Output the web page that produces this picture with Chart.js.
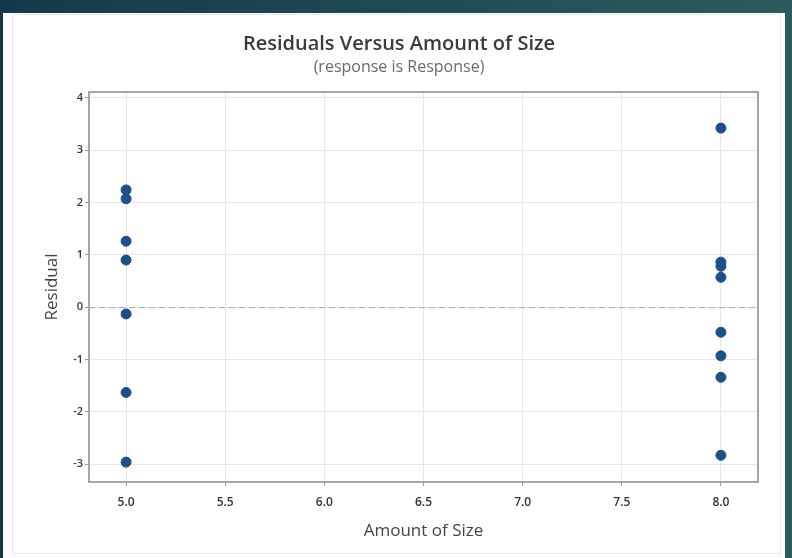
<!DOCTYPE html>
<html>
<head>
<meta charset="utf-8">
<script src="https://cdn.jsdelivr.net/npm/chart.js@4"></script>
<style>
  html, body { margin: 0; padding: 0; }
  body { width: 792px; height: 558px; overflow: hidden; position: relative;
         background: linear-gradient(90deg, #133a4a, #2a5b5d); }
  #panel { position: absolute; left: 3px; top: 13px; width: 782px; height: 545px; background: #fff; }
  #inner { position: absolute; left: 12px; top: 14px; width: 769px; height: 540px; border: 1px solid #e8e8e8; box-sizing: border-box; }
  #wrap { position: absolute; left: 0; top: 0; width: 792px; height: 558px; }
</style>
</head>
<body>
<div id="panel"></div>
<div id="inner"></div>
<div id="wrap"><canvas id="c" width="792" height="558"></canvas></div>
<script>
const titleText = "Residuals Versus Amount of Size";
const subtitleText = "(response is Response)";
const xAxisTitle = "Amount of Size";
const yAxisTitle = "Residual";

const sizeValues = [5, 5, 5, 5, 5, 5, 5, 8, 8, 8, 8, 8, 8, 8, 8];
const residuals  = [2.24, 2.07, 1.26, 0.90, -0.13, -1.63, -2.96,
                    3.42, 0.86, 0.78, 0.57, -0.48, -0.93, -1.34, -2.83];
const xTicks = [5.0, 5.5, 6.0, 6.5, 7.0, 7.5, 8.0];
const yTicks = [-3, -2, -1, 0, 1, 2, 3, 4];
const referenceY = 0;

const points = sizeValues.map((x, i) => ({ x: x, y: residuals[i] }));

const framePlugin = {
  id: 'frame',
  beforeDatasetsDraw(chart) {
    const { ctx, chartArea: a, scales } = chart;
    const y0 = scales.y.getPixelForValue(referenceY);
    ctx.save();
    ctx.strokeStyle = '#a8a8a8';
    ctx.lineWidth = 1;
    ctx.setLineDash([6, 4]);
    ctx.beginPath();
    ctx.moveTo(a.left, y0 + 0.5);
    ctx.lineTo(a.right, y0 + 0.5);
    ctx.stroke();
    ctx.restore();
  },
  afterDraw(chart) {
    const { ctx, chartArea: a } = chart;
    ctx.save();
    ctx.strokeStyle = '#a6a6a6';
    ctx.lineWidth = 2;
    ctx.strokeRect(a.left, a.top, a.right - a.left, a.bottom - a.top);
    ctx.restore();
  }
};

new Chart(document.getElementById('c'), {
  type: 'scatter',
  data: {
    datasets: [{
      data: points,
      backgroundColor: '#1d4f8b',
      borderColor: '#1d4f8b',
      pointRadius: 5,
      pointHoverRadius: 5
    }]
  },
  options: {
    responsive: false,
    animation: false,
    layout: { padding: { left: 40, right: 34, top: 20, bottom: 0 } },
    plugins: {
      legend: { display: false },
      tooltip: { enabled: false },
      title: {
        display: true, text: titleText, color: '#3a3a3a',
        font: { family: 'Open Sans', size: 20, weight: '600' },
        padding: { top: 12, bottom: 0 }
      },
      subtitle: {
        display: true, text: subtitleText, color: '#6a6a6a',
        font: { family: 'Open Sans', size: 16 },
        padding: { top: 1.4, bottom: 15.4 }
      }
    },
    scales: {
      x: {
        type: 'linear', min: 4.813, max: 8.187,
        afterBuildTicks(s) { s.ticks = xTicks.map(v => ({ value: v })); },
        afterFit(s) { s.height = 76; },
        ticks: {
          color: '#333', font: { family: 'Open Sans', size: 12, weight: '600' }, padding: 9,
          callback: v => Number(v).toFixed(1)
        },
        grid: { color: '#e6e6e6', tickColor: '#9a9a9a', tickLength: 4, drawTicks: true },
        border: { display: false },
        title: {
          display: true, text: xAxisTitle, color: '#444',
          font: { family: 'Open Sans', size: 17 },
          padding: { top: 0, bottom: 17 }
        }
      },
      y: {
        type: 'linear', min: -3.34, max: 4.11,
        afterBuildTicks(s) { s.ticks = yTicks.map(v => ({ value: v })); },
        afterFit(s) { s.width = 49; },
        ticks: { color: '#333', font: { family: 'Open Sans', size: 11, weight: '600' }, padding: 2 },
        grid: { color: '#e6e6e6', tickColor: '#9a9a9a', tickLength: 4, drawTicks: true },
        border: { display: false },
        title: {
          display: true, text: yAxisTitle, color: '#444',
          font: { family: 'Open Sans', size: 17 },
          padding: { top: 1.8, bottom: 0 }
        }
      }
    }
  },
  plugins: [framePlugin]
});
</script>
</body>
</html>
